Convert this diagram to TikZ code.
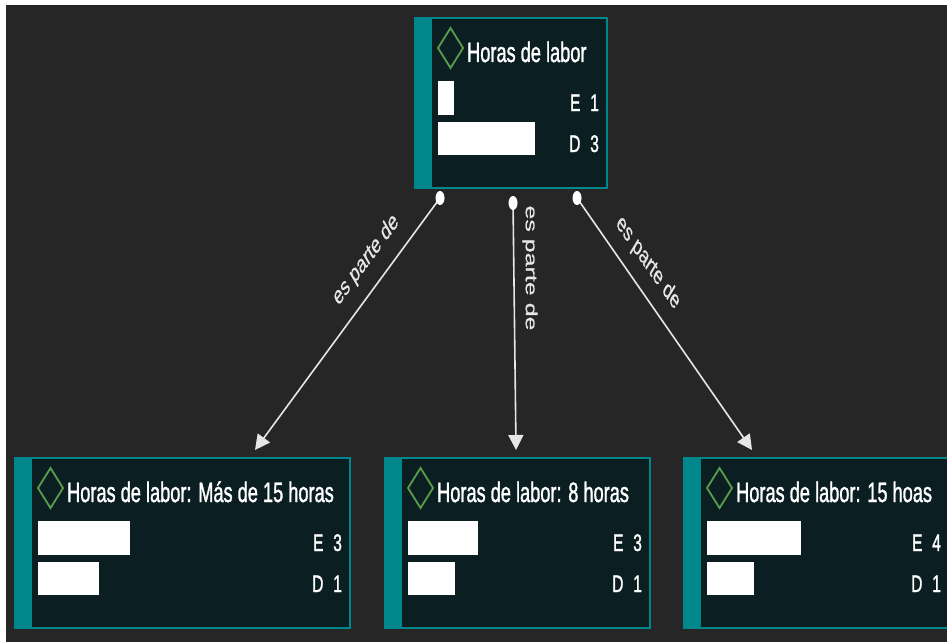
\documentclass[tikz,border=0pt]{standalone}
\usepackage{fontspec}
\setmainfont{Liberation Sans}
\newfontfamily\heavyf[FakeBold=1.6]{Liberation Sans}
\newfontfamily\lblf[FakeBold=0.6]{Liberation Sans}
\usetikzlibrary{calc,arrows.meta}
\definecolor{bgc}{HTML}{262626}
\definecolor{nodefill}{HTML}{0B1F22}
\definecolor{tealc}{HTML}{00878C}
\definecolor{diag}{HTML}{5A9E48}
\definecolor{linec}{HTML}{E6E6E6}
\tikzset{
 cbox/.style={draw=tealc, line width=1.5pt, fill=nodefill, inner sep=0pt, outer sep=0pt, minimum height=170pt, anchor=north west},
 stripe/.style={fill=tealc},
 dia/.style={draw=diag, line width=1.8pt, line join=miter},
 ttl/.style={text=white, font=\heavyf\fontsize{28}{30}\selectfont, inner sep=0pt, anchor=base west},
 cnt/.style={text=white, font=\heavyf\fontsize{24}{26}\selectfont, inner sep=0pt, anchor=base east},
 bar/.style={fill=white},
 conn/.style={draw=linec, line width=1.6pt, -{Triangle[width=15pt,length=15pt]}},
 dot/.style={fill=white},
 lbl/.style={text=linec, font=\lblf\fontsize{25}{27}\selectfont, inner sep=0pt},
}
\newcommand{\conceptbox}[9]{%
 \node[cbox, minimum width={#4pt/0.65}] (#1) at (#2,#3) {};
 \fill[stripe] (#1.north west) rectangle ($(#1.south west)+(17,0)$);
 \draw[dia] ($(#1.north west)+(23,30)$) -- ++(12.5,-20) -- ++(12.5,20) -- ++(-12.5,20) -- cycle;
 \node[ttl] (#1-t) at ($(#1.north west)+(52,44)$) {#5};
 \fill[bar] ($(#1.north west)+(23,63)$) rectangle ++(#6,34);
 \fill[bar] ($(#1.north west)+(23,104)$) rectangle ++(#7,33);
 \node[cnt] (#1-e) at ($(#1.north east)+(-8,93)$) {E\hspace{15pt}#8};
 \node[cnt] (#1-d) at ($(#1.north east)+(-8,134)$) {D\hspace{15pt}#9};
}
\begin{document}
\begin{tikzpicture}[x=1.538462pt, y=-1pt, xscale=0.65, transform shape]
\useasboundingbox (0,0) rectangle (947,642);
\clip (0,0) rectangle (947,642);
\fill[white] (0,0) rectangle (947,642);
\fill[bgc] (6,5) rectangle (947,642);

\conceptbox{top}{415}{18}{192}{Horas de labor}{16}{97}{1}{3}
\conceptbox{L}{15}{458}{335}{Horas de labor: Más de 15 horas}{92}{61}{3}{1}
\conceptbox{M}{385}{458}{265}{Horas de labor: 8 horas}{70}{47}{3}{1}
\conceptbox{R}{684}{458}{265}{Horas de labor: 15 hoas}{94}{47}{4}{1}

\coordinate (s1) at ($(top.south west)+(25,10)$);
\coordinate (s2) at ($(top.south west)+(98,15)$);
\coordinate (s3) at ($(top.south west)+(162,10)$);
\coordinate (e1) at ($(L.north west)+(240,-8)$);
\coordinate (e2) at ($(M.north west)+(131,-8)$);
\coordinate (e3) at ($(R.north west)+(68,-8)$);

\draw[conn] (s1) -- (e1);
\draw[conn] (s2) -- (e2);
\draw[conn] (s3) -- (e3);
\fill[dot] (s1) ellipse [x radius=4.5, y radius=7];
\fill[dot] (s2) ellipse [x radius=4.5, y radius=7];
\fill[dot] (s3) ellipse [x radius=4.5, y radius=7];

\node[lbl, rotate=41.5] (lab1) at (366,260) {es parte de};
\node[lbl, rotate=-90] (lab2) at (530,268) {es parte de};
\node[lbl, rotate=-43.1] (lab3) at (648,263) {es parte de};
\end{tikzpicture}
\end{document}
